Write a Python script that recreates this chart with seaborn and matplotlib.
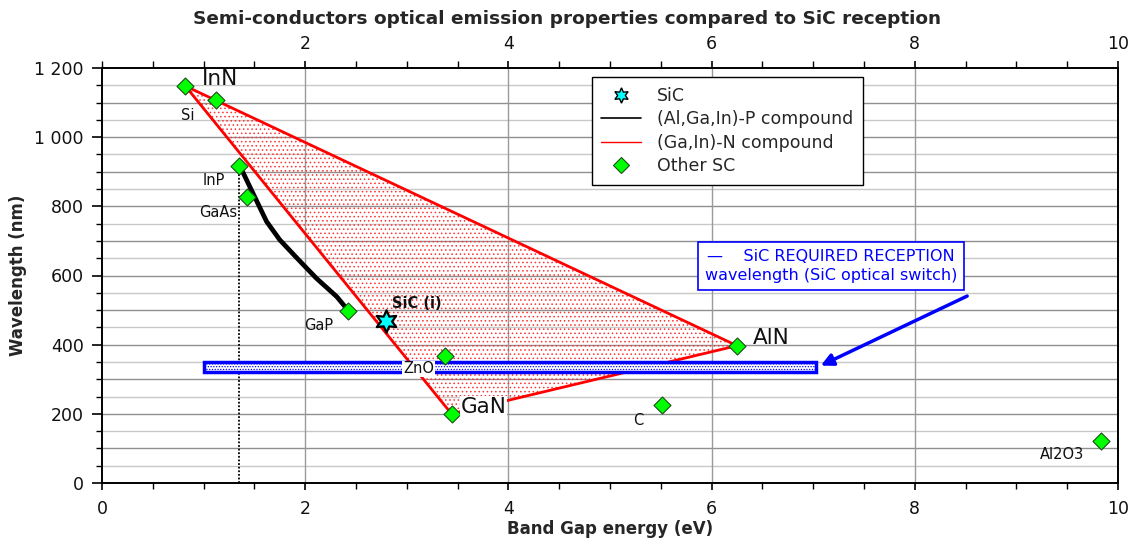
import numpy as np
import pandas as pd
import matplotlib
matplotlib.use('Agg')
import matplotlib.pyplot as plt
import seaborn as sns
from matplotlib.lines import Line2D
from matplotlib.patches import Polygon, Rectangle
from matplotlib.ticker import MultipleLocator, FixedLocator

# ---------------- data ----------------
sc_names = ['InN', 'Si', 'InP', 'GaAs', 'GaP', 'ZnO', 'GaN', 'AlN', 'C', 'Al2O3']
sc_gap = [0.82, 1.12, 1.35, 1.43, 2.42, 3.38, 3.44, 6.25, 5.51, 9.83]
sc_wl = [1148, 1107, 918, 826, 497, 368, 200, 397, 225, 122]

sic_name = ['SiC (i)']
sic_gap = [2.80]
sic_wl = [469]

alp_gap = [1.36, 1.51, 1.62, 1.75, 1.92, 2.11, 2.31, 2.42]
alp_wl = [915, 823, 756, 703, 650, 592, 539, 500]

gan_vertices = ['InN', 'AlN', 'GaN']

reception_gap = [1.0, 7.03]
reception_wl = [320, 350]
arrow_gap = [8.54, 7.05]
arrow_wl = [544, 336]

y_ticks = [0, 200, 400, 600, 800, 1000, 1200]
y_labels = ['0', '200', '400', '600', '800', '1 000', '1 200']
x_ticks = [0, 2, 4, 6, 8, 10]
top_ticks = [2, 4, 6, 8, 10]

title = 'Semi-conductors optical emission properties compared to SiC reception'
x_title = 'Band Gap energy (eV)'
y_title = 'Wavelength (nm)'
legend_labels = ['SiC', '(Al,Ga,In)-P compound', '(Ga,In)-N compound', 'Other SC']
box_text = '—    SiC REQUIRED RECEPTION\nwavelength (SiC optical switch)'

# label placement (offset pixels: right/up positive, size, weight, white background)
label_style = {
    'InN': (35, 7, 15.5, 'normal', False),
    'Si': (-28, -15, 10.5, 'normal', False),
    'InP': (-25, -15, 10.5, 'normal', False),
    'GaAs': (-29, -15, 10.5, 'normal', False),
    'GaP': (-29, -14, 10.5, 'normal', False),
    'ZnO': (-27, -13, 10.5, 'normal', True),
    'GaN': (32, 7, 15.5, 'normal', True),
    'AlN': (34, 8, 15.5, 'normal', False),
    'C': (-24, -15, 10.5, 'normal', False),
    'Al2O3': (-39, -14, 10.5, 'normal', False),
}

# ---------------- style ----------------
sns.set_theme(style='white')
plt.rcParams['font.family'] = ['DejaVu Sans']
plt.rcParams['hatch.linewidth'] = 0.6

W, H = 1135, 540
fig = plt.figure(figsize=(W / 100, H / 100), dpi=100)
ax = fig.add_axes([102 / W, 1 - 483 / H, 1016 / W, 415 / H])
ax.set_xlim(0, 10)
ax.set_ylim(0, 1200)

# grid
for v in range(50, 1200, 50):
    ax.axhline(v, color='#8f8f8f' if v % 100 == 0 else '#c8c8c8', lw=1.0, zorder=0)
for v in x_ticks[1:-1]:
    ax.axvline(v, color='#9a9a9a', lw=1.0, zorder=0)

df = pd.DataFrame({'name': sc_names, 'gap': sc_gap, 'wl': sc_wl}).set_index('name')

# dotted vertical from InP
ax.plot([df.loc['InP', 'gap']] * 2, [0, df.loc['InP', 'wl']], color='black', lw=1.3,
        ls=(0, (1, 1)), zorder=2)

# (Ga,In)-N triangle
tri = df.loc[gan_vertices]
poly = Polygon(np.column_stack([tri['gap'], tri['wl']]), closed=True, facecolor='none',
               edgecolor='#ff3333', lw=0, hatch='....', zorder=1)
ax.add_patch(poly)
ax.plot(list(tri['gap']) + [tri['gap'].iloc[0]], list(tri['wl']) + [tri['wl'].iloc[0]],
        color='red', lw=2.0, zorder=3)

# (Al,Ga,In)-P compound curve
sns.lineplot(x=alp_gap, y=alp_wl, sort=False, color='black', lw=3.4, ax=ax, zorder=4)

# SiC reception band
rect = Rectangle((reception_gap[0], reception_wl[0]), reception_gap[1] - reception_gap[0],
                 reception_wl[1] - reception_wl[0], facecolor='white', edgecolor='blue',
                 lw=2.5, hatch='......', zorder=3)
ax.add_patch(rect)
ax.annotate('', xy=(arrow_gap[1], arrow_wl[1]), xytext=(arrow_gap[0], arrow_wl[0]),
            arrowprops=dict(arrowstyle='-|>', color='blue', lw=2.5, mutation_scale=18),
            zorder=6)

# points
sns.scatterplot(x=sc_gap, y=sc_wl, marker='D', s=75, color='#00ff00', edgecolor='#1a4d1a',
                linewidth=0.8, ax=ax, zorder=7)
sns.scatterplot(x=sic_gap, y=sic_wl, marker=(6, 1, 0), s=260, color='#00ffff',
                edgecolor='black', linewidth=1.6, ax=ax, zorder=7)

for n in sc_names:
    dx, dy, fs, fw, bg = label_style[n]
    kw = {}
    if bg:
        kw['bbox'] = dict(facecolor='white', edgecolor='none', pad=0.5)
    ax.annotate(n, (df.loc[n, 'gap'], df.loc[n, 'wl']), xytext=(dx, dy),
                textcoords='offset pixels', ha='center', va='center', fontsize=fs,
                fontweight=fw, color='#111111', zorder=8, **kw)
ax.annotate(sic_name[0], (sic_gap[0], sic_wl[0]), xytext=(30, 17), textcoords='offset pixels',
            ha='center', va='center', fontsize=10.5, fontweight='bold', color='#111111', zorder=8)

# reception text box
ax.text((831 - 102) / 1016, (483 - 266) / 415, box_text, transform=ax.transAxes,
        ha='center', va='center', multialignment='center', color='blue', fontsize=11.5,
        linespacing=1.4,
        bbox=dict(facecolor='white', edgecolor='blue', lw=1.2, boxstyle='square,pad=0.4'),
        zorder=9)

# legend
handles = [
    Line2D([], [], ls='none', marker=(6, 1, 0), markersize=11, markerfacecolor='#00ffff',
           markeredgecolor='black', markeredgewidth=1.0),
    Line2D([], [], color='black', lw=1.2),
    Line2D([], [], color='red', lw=1.0),
    Line2D([], [], ls='none', marker='D', markersize=8, markerfacecolor='#00ff00',
           markeredgecolor='#1a4d1a', markeredgewidth=0.8),
]
leg = ax.legend(handles, legend_labels, loc='upper left', bbox_to_anchor=(0.482, 0.978),
                frameon=True, fancybox=False, framealpha=1, edgecolor='black', fontsize=12.5,
                handlelength=2.3, handletextpad=0.9, labelspacing=0.32, borderpad=0.55,
                borderaxespad=0)
leg.get_frame().set_linewidth(1.0)
leg.set_zorder(10)

# axes / ticks
for s in ax.spines.values():
    s.set_color('black')
    s.set_linewidth(1.4)
ax.yaxis.set_major_locator(FixedLocator(y_ticks))
ax.set_yticklabels(y_labels)
ax.yaxis.set_minor_locator(MultipleLocator(50))
ax.xaxis.set_major_locator(FixedLocator(x_ticks))
ax.xaxis.set_minor_locator(MultipleLocator(0.5))
ax.tick_params(axis='y', which='major', direction='out', length=7, width=1.2, color='black',
               labelsize=12.5, labelcolor='#111111', left=True, pad=6)
ax.tick_params(axis='x', which='major', direction='out', length=5, width=1.2, color='black',
               labelsize=12.5, labelcolor='#111111', bottom=True, pad=7)
ax.tick_params(which='minor', direction='out', length=4.5, width=1.0, color='black',
               left=True, bottom=True)

top = ax.secondary_xaxis('top')
top.xaxis.set_major_locator(FixedLocator(top_ticks))
top.xaxis.set_minor_locator(MultipleLocator(0.5))
top.tick_params(which='major', direction='out', length=5, width=1.2, color='black',
                labelsize=12.5, labelcolor='#111111', pad=6)
top.tick_params(which='minor', direction='out', length=5, width=1.0, color='black')
top.spines['top'].set_visible(False)

ax.set_xlabel(x_title, fontsize=12, fontweight='bold', labelpad=2)
ax.set_ylabel(y_title, fontsize=12, fontweight='bold', labelpad=5)
fig.suptitle(title, fontsize=13.3, fontweight='bold', y=0.982)

fig.savefig('out.png', dpi=100)
